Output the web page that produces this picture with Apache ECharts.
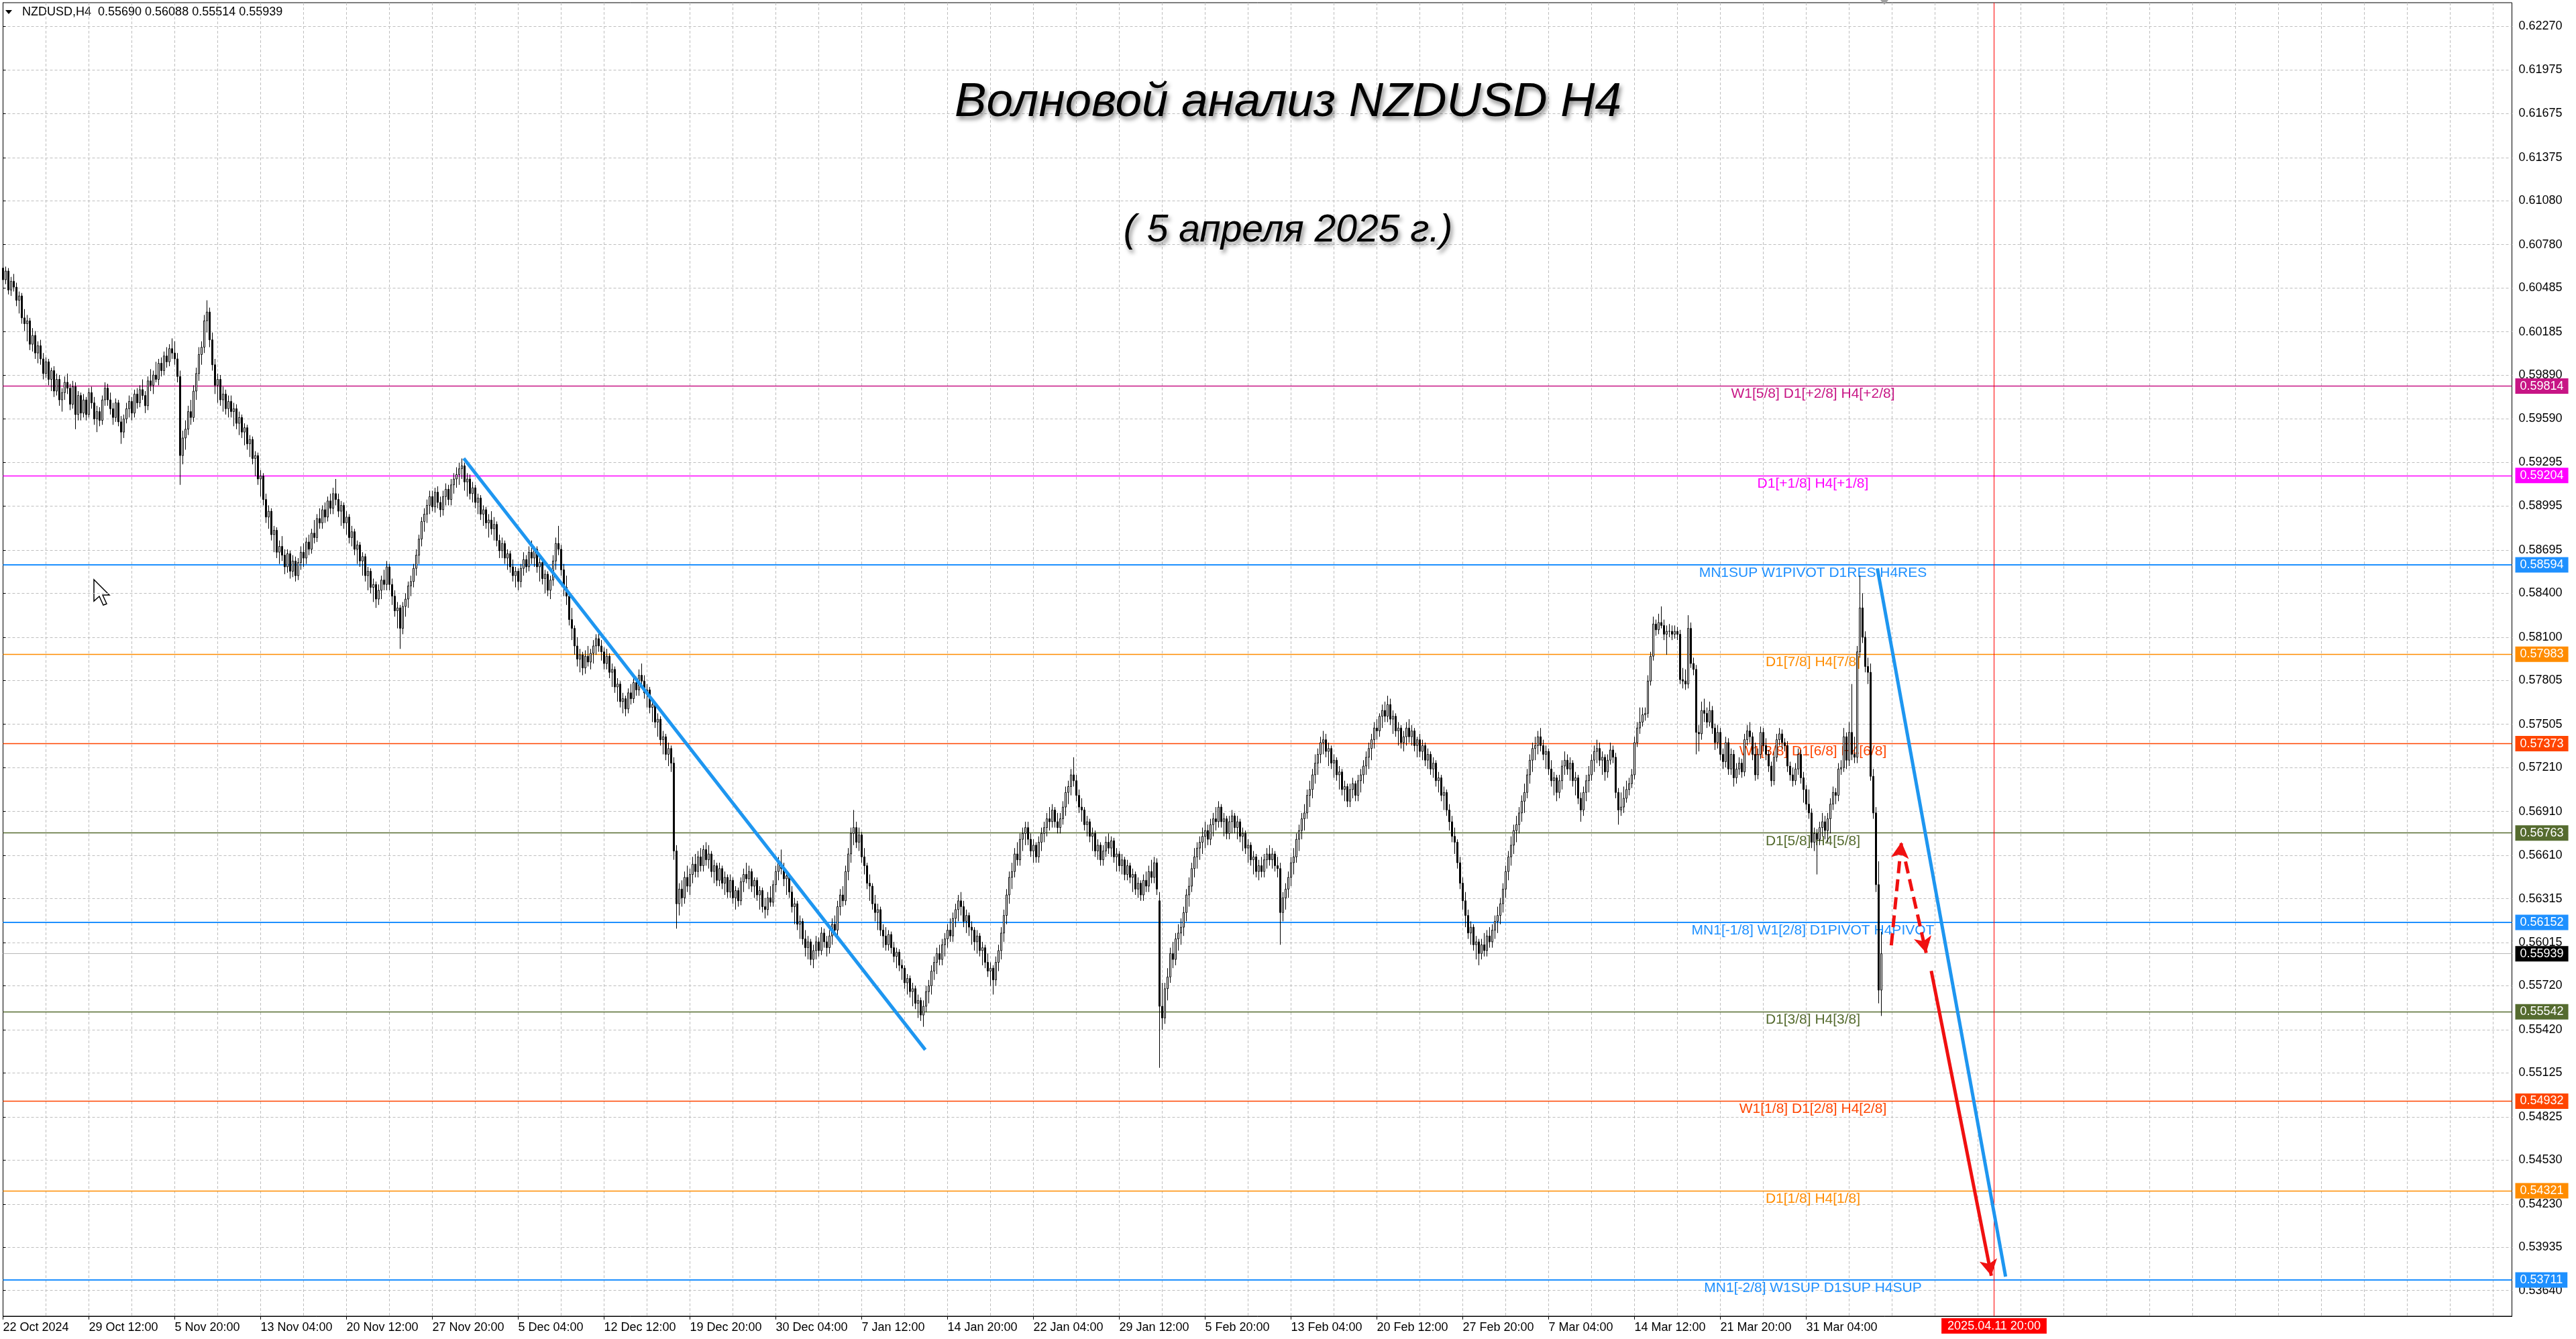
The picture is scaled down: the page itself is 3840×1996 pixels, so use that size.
<!DOCTYPE html>
<html><head><meta charset="utf-8">
<script src="https://cdn.jsdelivr.net/npm/echarts@6/dist/echarts.min.js"></script>
<style>html,body{margin:0;padding:0;background:#fff}#c{width:3840px;height:1996px}</style>
</head><body><div id="c"></div>
<script>
// H4 candles [open, high, low, close] in 1e-4 units (pips)
const barsOct = [[6062,6066,6050,6054],[6054,6063,6051,6060],[6060,6062,6044,6047],[6047,6056,6043,6053],[6053,6058,6046,6049],[6049,6052,6036,6040],[6040,6046,6031,6043],[6043,6045,6024,6028],[6028,6034,6019,6024],[6024,6030,6012,6026],
[6026,6028,6006,6010],[6010,6021,6005,6016],[6016,6019,6000,6004],[6004,6012,5997,6009],[6009,6013,5996,6000],[6000,6004,5986,5990],[5990,6001,5987,5998],[5998,6000,5982,5986],[5986,5994,5978,5992],[5992,5995,5974,5978],
[5978,5990,5975,5986],[5986,5989,5968,5972],[5972,5980,5964,5977],[5977,5988,5972,5984],[5984,5990,5976,5980],[5980,5983,5965,5969],[5969,5985,5966,5981],[5981,5984,5952,5962],[5962,5978,5958,5975],[5975,5977,5958,5963],
[5963,5976,5960,5972],[5972,5974,5958,5962],[5962,5980,5960,5977],[5977,5981,5966,5970],[5970,5974,5955,5959],[5959,5968,5950,5964],[5964,5967,5954,5958],[5958,5975,5955,5972],[5972,5984,5968,5980],[5980,5983,5968,5972],
[5972,5977,5962,5966],[5966,5970,5955,5960],[5960,5973,5957,5970],[5970,5972,5954,5957],[5957,5961,5942,5950],[5950,5962,5946,5959],[5959,5970,5956,5966]];
const barsNov = [[5966,5975,5960,5971],[5971,5974,5958,5963],[5963,5979,5960,5976],[5976,5980,5966,5970],[5970,5982,5967,5979],[5979,5986,5972,5975],[5975,5978,5963,5968],[5968,5988,5965,5985],[5985,5993,5978,5982],[5982,5992,5976,5989],
[5989,5998,5984,5986],[5986,6000,5982,5997],[5997,6001,5988,5992],[5992,6005,5989,6002],[6002,6008,5994,5998],[5998,6010,5995,6007],[6007,6014,6000,6004],[6004,6012,5996,6000],[6000,6004,5984,5988],[5988,5992,5914,5934],
[5934,5951,5928,5946],[5946,5958,5938,5952],[5952,5968,5948,5964],[5964,5972,5955,5960],[5960,5982,5957,5978],[5978,5994,5972,5990],[5990,6008,5985,6003],[6003,6012,5996,6008],[6008,6030,6004,6026],[6026,6040,6018,6032],
[6032,6035,6008,6013],[6013,6018,5992,5996],[5996,6000,5976,5982],[5982,5990,5970,5986],[5986,5989,5968,5972],[5972,5981,5964,5976],[5976,5979,5962,5966],[5966,5975,5960,5971],[5971,5975,5960,5964],[5964,5970,5954,5966],
[5966,5969,5952,5956],[5956,5964,5948,5960],[5960,5962,5946,5950],[5950,5956,5941,5953],[5953,5955,5938,5942],[5942,5948,5933,5945],[5945,5947,5928,5932],[5932,5937,5920,5934],[5934,5936,5914,5918],[5918,5924,5906,5920],
[5920,5922,5900,5904],[5904,5908,5888,5892],[5892,5900,5884,5896],[5896,5898,5876,5880],[5880,5886,5868,5883],[5883,5885,5864,5868],[5868,5876,5860,5872],[5872,5879,5862,5866],[5866,5870,5853,5858],[5858,5870,5854,5867],
[5867,5869,5850,5855],[5855,5866,5851,5862],[5862,5865,5848,5852],[5852,5864,5849,5861],[5861,5872,5856,5868],[5868,5874,5858,5864],[5864,5878,5860,5875],[5875,5880,5866,5870],[5870,5884,5867,5881],[5881,5890,5874,5878],
[5878,5894,5875,5891],[5891,5898,5884,5888],[5888,5900,5884,5897],[5897,5902,5888,5892],[5892,5906,5889,5903],[5903,5908,5894,5898],[5898,5912,5894,5908],[5908,5918,5900,5904],[5904,5908,5892,5896],[5896,5903,5886,5900],
[5900,5902,5884,5888],[5888,5896,5880,5892],[5892,5894,5874,5878],[5878,5886,5872,5882],[5882,5884,5866,5870],[5870,5876,5860,5873],[5873,5875,5858,5862],[5862,5868,5852,5865],[5865,5867,5848,5852],[5852,5858,5842,5855],
[5855,5857,5840,5844],[5844,5850,5834,5846],[5846,5848,5830,5836],[5836,5846,5832,5842],[5842,5852,5836,5849],[5849,5856,5842,5846],[5846,5862,5842,5858],[5858,5860,5842,5846],[5846,5850,5832,5838],[5838,5842,5824,5828],
[5828,5834,5816,5830],[5830,5832,5802,5816],[5816,5834,5812,5831],[5831,5840,5824,5836],[5836,5848,5830,5845],[5845,5852,5838,5848],[5848,5860,5844,5857],[5857,5870,5852,5866],[5866,5880,5860,5877],[5877,5892,5872,5889],
[5889,5898,5882,5894],[5894,5904,5888,5900],[5900,5910,5894,5906],[5906,5910,5896,5899],[5899,5912,5895,5909],[5909,5913,5898,5902],[5902,5906,5892,5897],[5897,5910,5893,5906],[5906,5915,5900,5911],[5911,5914,5900,5904],
[5904,5918,5900,5914],[5914,5922,5908,5918],[5918,5926,5912,5921],[5921,5929,5914,5925],[5925,5932,5918,5927],[5927,5929,5910,5916]];
const barsDec = [[5916,5922,5906,5918],[5918,5921,5904,5908],[5908,5916,5902,5912],[5912,5914,5898,5902],[5902,5908,5894,5905],[5905,5907,5890,5894],[5894,5900,5886,5897],[5897,5899,5884,5888],[5888,5894,5878,5890],[5890,5896,5880,5884],
[5884,5892,5876,5887],[5887,5889,5872,5876],[5876,5880,5864,5869],[5869,5878,5864,5874],[5874,5876,5860,5864],[5864,5870,5856,5867],[5867,5869,5854,5858],[5858,5863,5848,5852],[5852,5858,5844,5855],[5855,5857,5842,5848],
[5848,5860,5844,5857],[5857,5868,5852,5863],[5863,5866,5854,5858],[5858,5872,5855,5868],[5868,5876,5860,5864],[5864,5872,5858,5870],[5870,5872,5854,5858],[5858,5864,5848,5861],[5861,5863,5846,5850],[5850,5856,5840,5853],
[5853,5855,5838,5842],[5842,5852,5836,5849],[5849,5866,5845,5862],[5862,5878,5856,5874],[5874,5886,5866,5870],[5870,5873,5852,5856],[5856,5860,5838,5844],[5844,5852,5832,5838],[5838,5840,5818,5822],[5822,5830,5808,5816],
[5816,5818,5798,5804],[5804,5810,5790,5795],[5795,5802,5786,5798],[5798,5800,5784,5789],[5789,5801,5785,5797],[5797,5804,5790,5793],[5793,5802,5788,5799],[5799,5808,5792,5804],[5804,5812,5798,5809],[5809,5815,5800,5804],
[5804,5808,5794,5800],[5800,5803,5788,5792],[5792,5802,5788,5797],[5797,5799,5782,5786],[5786,5792,5776,5788],[5788,5790,5772,5776],[5776,5782,5766,5778],[5778,5780,5762,5766],[5766,5772,5758,5768],[5768,5770,5756,5761],
[5761,5775,5758,5772],[5772,5778,5764,5768],[5768,5782,5765,5779],[5779,5783,5770,5774],[5774,5788,5770,5784],[5784,5792,5776,5780],[5780,5784,5768,5772],[5772,5778,5762,5774],[5774,5776,5758,5762],[5762,5768,5752,5764],
[5764,5766,5748,5752],[5752,5758,5742,5754],[5754,5756,5736,5740],[5740,5746,5730,5742],[5742,5744,5726,5730],[5730,5738,5722,5734],[5734,5736,5718,5724],[5724,5728,5658,5664],[5664,5668,5611,5628],[5628,5642,5620,5638],
[5638,5644,5626,5632],[5632,5650,5628,5646],[5646,5654,5636,5640],[5640,5652,5634,5648],[5648,5660,5642,5655],[5655,5662,5646,5650],[5650,5664,5646,5660],[5660,5666,5650,5654],[5654,5668,5650,5665],[5665,5670,5654,5658],
[5658,5668,5652,5662],[5662,5664,5646,5650],[5650,5658,5642,5654],[5654,5656,5640,5644],[5644,5656,5640,5652],[5652,5654,5638,5642],[5642,5650,5634,5646],[5646,5648,5632,5636],[5636,5648,5632,5644],[5644,5646,5628,5632],
[5632,5640,5624,5637],[5637,5639,5626,5630],[5630,5646,5627,5643],[5643,5652,5636,5648],[5648,5656,5642,5645],[5645,5654,5638,5650],[5650,5652,5636,5640],[5640,5646,5632,5644],[5644,5646,5630,5634],[5634,5640,5624,5637],
[5637,5639,5622,5626],[5626,5632,5618,5624],[5624,5636,5620,5632],[5632,5640,5626,5629],[5629,5644,5626,5641],[5641,5654,5636,5650],[5650,5660,5644,5656],[5656,5665,5648,5652],[5652,5656,5640,5645],[5645,5650,5634,5647],
[5647,5649,5632,5636],[5636,5640,5622,5626],[5626,5632,5614,5628],[5628,5630,5610,5614],[5614,5620,5604,5616],[5616,5618,5600,5604]];
const barsJan = [[5604,5610,5592,5598],[5598,5606,5590,5602],[5602,5604,5586,5590],[5590,5600,5584,5596],[5596,5606,5590,5602],[5602,5605,5592,5596],[5596,5612,5593,5608],[5608,5611,5598,5602],[5602,5606,5592,5598],[5598,5610,5594,5606],
[5606,5618,5600,5614],[5614,5620,5606,5610],[5610,5630,5606,5626],[5626,5638,5620,5634],[5634,5640,5626,5630],[5630,5654,5627,5650],[5650,5666,5644,5662],[5662,5680,5656,5676],[5676,5692,5668,5680],[5680,5684,5666,5670],
[5670,5680,5664,5675],[5675,5677,5656,5660],[5660,5666,5648,5654],[5654,5656,5638,5642],[5642,5648,5630,5640],[5640,5642,5624,5628],[5628,5634,5616,5622],[5622,5628,5610,5624],[5624,5626,5606,5610],[5610,5614,5598,5606],
[5606,5612,5596,5600],[5600,5610,5596,5607],[5607,5609,5594,5598],[5598,5602,5588,5592],[5592,5598,5584,5595],[5595,5597,5582,5586],[5586,5590,5576,5584],[5584,5586,5570,5574],[5574,5580,5566,5577],[5577,5579,5564,5568],
[5568,5574,5558,5570],[5570,5572,5556,5560],[5560,5566,5550,5562],[5562,5564,5548,5552],[5552,5562,5544,5558],[5558,5572,5554,5568],[5568,5576,5560,5572],[5572,5586,5566,5582],[5582,5592,5576,5588],[5588,5598,5580,5594],
[5594,5600,5586,5590],[5590,5604,5586,5600],[5600,5608,5592,5604],[5604,5614,5598,5610],[5610,5618,5602,5606],[5606,5622,5602,5618],[5618,5628,5612,5624],[5624,5634,5616,5630],[5630,5636,5620,5626],[5626,5630,5612,5616],
[5616,5624,5608,5620],[5620,5622,5606,5612],[5612,5616,5600,5610],[5610,5612,5596,5602],[5602,5610,5594,5606],[5606,5608,5592,5596],[5596,5602,5586,5598],[5598,5600,5584,5588],[5588,5594,5578,5582],[5582,5588,5572,5584],
[5584,5586,5566,5576],[5576,5592,5572,5588],[5588,5600,5582,5596],[5596,5612,5590,5608],[5608,5624,5602,5620],[5620,5638,5614,5634],[5634,5650,5628,5646],[5646,5656,5638,5650],[5650,5666,5646,5662],[5662,5670,5654,5658],
[5658,5676,5654,5672],[5672,5680,5664,5676],[5676,5684,5668,5680],[5680,5684,5668,5672],[5672,5676,5660,5664],[5664,5672,5656,5668],[5668,5670,5656,5660],[5660,5674,5656,5670],[5670,5680,5664,5676],[5676,5684,5670,5680],
[5680,5690,5674,5686],[5686,5694,5678,5684],[5684,5696,5680,5692],[5692,5694,5680,5684],[5684,5690,5676,5680],[5680,5690,5676,5686],[5686,5698,5682,5694],[5694,5708,5688,5704],[5704,5712,5696,5708],[5708,5720,5702,5716],
[5716,5728,5708,5712],[5712,5716,5698,5702],[5702,5706,5690,5694],[5694,5700,5684,5692],[5692,5694,5678,5682],[5682,5688,5674,5684],[5684,5686,5670,5674],[5674,5680,5664,5676],[5676,5678,5660,5664],[5664,5672,5658,5668],
[5668,5670,5654,5658],[5658,5668,5654,5664],[5664,5674,5660,5670],[5670,5676,5662,5666],[5666,5674,5660,5671],[5671,5673,5656,5660],[5660,5666,5650,5662],[5662,5664,5650,5654],[5654,5662,5648,5658],[5658,5660,5644,5648],
[5648,5658,5644,5654],[5654,5656,5642,5646],[5646,5652,5636,5648],[5648,5650,5634,5638],[5638,5646,5632,5642],[5642,5644,5630,5634],[5634,5648,5630,5644],[5644,5650,5636,5640],[5640,5654,5636,5650],[5650,5658,5642,5646],
[5646,5660,5642,5656],[5656,5659,5634,5638]];
const barsFeb = [[5630,5636,5516,5558],[5558,5574,5542,5550],[5550,5574,5546,5570],[5570,5584,5562,5578],[5578,5598,5574,5594],[5594,5602,5584,5590],[5590,5608,5586,5604],[5604,5614,5596,5608],[5608,5618,5600,5612],[5612,5626,5606,5622],
[5622,5638,5616,5634],[5634,5646,5626,5640],[5640,5656,5636,5652],[5652,5666,5646,5660],[5660,5670,5652,5666],[5666,5674,5658,5670],[5670,5680,5662,5674],[5674,5684,5666,5678],[5678,5682,5668,5672],[5672,5686,5668,5682],
[5682,5690,5674,5686],[5686,5694,5678,5684],[5684,5698,5680,5694],[5694,5696,5680,5684],[5684,5690,5674,5686],[5686,5688,5672,5676],[5676,5688,5672,5684],[5684,5692,5676,5688],[5688,5690,5676,5680],[5680,5688,5672,5684],
[5684,5686,5670,5674],[5674,5680,5664,5676],[5676,5678,5662,5666],[5666,5672,5656,5668],[5668,5670,5654,5658],[5658,5664,5648,5660],[5660,5662,5646,5650],[5650,5658,5644,5654],[5654,5660,5646,5650],[5650,5662,5646,5658],
[5658,5666,5652,5662],[5662,5668,5654,5658],[5658,5666,5652,5662],[5662,5664,5650,5654],[5654,5660,5646,5652],[5652,5656,5600,5622],[5622,5636,5616,5632],[5632,5642,5624,5638],[5638,5650,5632,5646],[5646,5660,5640,5656],
[5656,5666,5648,5660],[5660,5676,5656,5672],[5672,5682,5664,5678],[5678,5690,5672,5686],[5686,5696,5678,5690],[5690,5706,5686,5702],[5702,5712,5694,5706],[5706,5720,5700,5716],[5716,5730,5710,5724],[5724,5734,5716,5730],
[5730,5742,5724,5738],[5738,5746,5730,5740],[5740,5744,5728,5732],[5732,5738,5722,5734],[5734,5736,5720,5724],[5724,5730,5714,5726],[5726,5728,5712,5716],[5716,5722,5706,5718],[5718,5720,5702,5706],[5706,5712,5698,5708],
[5708,5710,5694,5698],[5698,5710,5694,5706],[5706,5714,5700,5710],[5710,5712,5698,5702],[5702,5716,5698,5712],[5712,5720,5704,5716],[5716,5726,5710,5722],[5722,5732,5716,5728],[5728,5738,5720,5734],[5734,5744,5726,5740],
[5740,5752,5734,5748],[5748,5754,5740,5746],[5746,5758,5742,5756],[5756,5764,5748,5760],[5760,5766,5752,5756],[5756,5770,5752,5764],[5764,5768,5750,5754],[5754,5760,5744,5756],[5756,5758,5742,5746],[5746,5752,5736,5748],
[5748,5750,5734,5738],[5738,5746,5732,5742],[5742,5752,5736,5748],[5748,5754,5738,5742],[5742,5750,5736,5746],[5746,5748,5732,5736],[5736,5742,5728,5740],[5740,5744,5728,5732],[5732,5740,5726,5736],[5736,5738,5722,5726],
[5726,5734,5720,5730],[5730,5732,5716,5720],[5720,5728,5714,5724],[5724,5726,5708,5712],[5712,5718,5704,5714],[5714,5716,5698,5702],[5702,5708,5692,5704],[5704,5706,5688,5692],[5692,5696,5678,5684],[5684,5688,5670,5674],
[5674,5680,5662,5670],[5670,5672,5652,5656],[5656,5660,5638,5642],[5642,5646,5624,5630],[5630,5636,5612,5620],[5620,5624,5604,5608],[5608,5616,5600,5612],[5612,5614,5596,5600],[5600,5606,5590,5602],[5602,5604,5586,5594]];
const barsMar = [[5594,5604,5590,5600],[5600,5608,5592,5596],[5596,5610,5592,5606],[5606,5612,5598,5602],[5602,5614,5598,5610],[5610,5620,5604,5616],[5616,5626,5608,5620],[5620,5632,5614,5628],[5628,5642,5622,5638],[5638,5654,5632,5650],
[5650,5664,5644,5660],[5660,5674,5654,5668],[5668,5682,5662,5678],[5678,5688,5670,5682],[5682,5694,5676,5690],[5690,5702,5684,5698],[5698,5710,5690,5704],[5704,5720,5700,5716],[5716,5730,5710,5726],[5726,5738,5718,5734],
[5734,5742,5726,5736],[5736,5746,5730,5742],[5742,5748,5732,5736],[5736,5740,5726,5730],[5730,5736,5720,5732],[5732,5734,5716,5720],[5720,5726,5708,5712],[5712,5718,5702,5714],[5714,5716,5698,5704],[5704,5716,5700,5712],
[5712,5726,5706,5722],[5722,5732,5716,5726],[5726,5730,5716,5720],[5720,5728,5712,5724],[5724,5726,5708,5712],[5712,5718,5702,5714],[5714,5716,5696,5700],[5700,5704,5684,5692],[5692,5708,5688,5704],[5704,5716,5698,5712],
[5712,5722,5704,5716],[5716,5730,5712,5726],[5726,5736,5718,5732],[5732,5740,5724,5734],[5734,5738,5722,5726],[5726,5732,5716,5728],[5728,5730,5712,5718],[5718,5730,5714,5726],[5726,5738,5723,5733],[5733,5736,5724,5728],
[5728,5731,5700,5704],[5704,5707,5682,5692],[5692,5704,5688,5694],[5694,5708,5690,5700],[5700,5712,5697,5706],[5706,5714,5702,5710],[5710,5720,5707,5716],[5716,5742,5713,5738],[5738,5752,5735,5748],[5748,5762,5744,5752],
[5752,5762,5749,5757],[5757,5762,5753,5758],[5758,5784,5755,5780],[5780,5800,5777,5797],[5797,5824,5794,5819],[5819,5822,5811,5815],[5815,5826,5812,5820],[5820,5831,5816,5818],[5818,5822,5808,5812],[5812,5818,5798,5814],
[5814,5819,5810,5814],[5814,5818,5808,5812],[5812,5818,5809,5814],[5814,5817,5808,5812],[5812,5815,5778,5781],[5781,5789,5775,5780],[5780,5788,5774,5778],[5778,5825,5775,5816],[5816,5820,5789,5792],[5792,5796,5784,5788],
[5788,5791,5730,5745],[5745,5750,5732,5744],[5744,5766,5740,5760],[5760,5768,5752,5758],[5758,5762,5748,5752],[5752,5766,5749,5760],[5760,5763,5744,5748],[5748,5751,5733,5738],[5738,5750,5734,5745],[5745,5748,5726,5730],
[5730,5734,5720,5725],[5725,5742,5721,5738],[5738,5741,5716,5720],[5720,5734,5716,5730],[5730,5733,5708,5714],[5714,5724,5710,5720],[5720,5728,5716,5724],[5724,5727,5714,5718],[5718,5744,5715,5740],[5740,5750,5736,5746],
[5746,5752,5738,5742],[5742,5745,5726,5730],[5730,5738,5712,5716],[5716,5734,5713,5730],[5730,5749,5727,5745],[5745,5748,5732,5736],[5736,5741,5726,5730],[5730,5733,5718,5722],[5722,5725,5708,5712],[5712,5732,5709,5728],
[5728,5744,5725,5740],[5740,5748,5736,5744],[5744,5747,5734,5738],[5738,5741,5732,5736],[5736,5739,5718,5722],[5722,5725,5712,5716],[5716,5721,5708,5712],[5712,5724,5709,5720],[5720,5734,5716,5730],[5730,5733,5710,5714],
[5714,5718,5697,5706],[5706,5709,5692,5696],[5696,5706,5686,5690],[5690,5693,5666,5670],[5670,5680,5664,5676],[5676,5679,5648,5672]];
const barsApr = [[5672,5684,5668,5680],[5680,5690,5674,5684],[5684,5688,5672,5678],[5678,5690,5670,5686],[5686,5700,5676,5696],[5696,5708,5692,5704],[5704,5707,5696,5702],[5702,5724,5698,5720],[5720,5726,5716,5721],[5721,5748,5718,5742],
[5742,5745,5720,5726],[5726,5752,5722,5745],[5745,5778,5726,5730],[5730,5742,5724,5728],[5728,5804,5724,5800],[5800,5852,5796,5830],[5830,5840,5806,5810],[5810,5814,5786,5790],[5790,5796,5778,5786],[5786,5792,5712,5715],
[5715,5720,5686,5690],[5690,5694,5636,5641],[5641,5657,5560,5569],[5569.0,5608.8,5551.4,5593.9]];

const timeLabels = ['22 Oct 2024','29 Oct 12:00','5 Nov 20:00','13 Nov 04:00','20 Nov 12:00','27 Nov 20:00','5 Dec 04:00','12 Dec 12:00','19 Dec 20:00','30 Dec 04:00','7 Jan 12:00','14 Jan 20:00','22 Jan 04:00','29 Jan 12:00','5 Feb 20:00','13 Feb 04:00','20 Feb 12:00','27 Feb 20:00','7 Mar 04:00','14 Mar 12:00','21 Mar 20:00','31 Mar 04:00'];
const priceTicks = [0.62270,0.61975,0.61675,0.61375,0.61080,0.60780,0.60485,0.60185,0.59890,0.59590,0.59295,0.58995,0.58695,0.58400,0.58100,0.57805,0.57505,0.57210,0.56910,0.56610,0.56315,0.56015,0.55720,0.55420,0.55125,0.54825,0.54530,0.54230,0.53935,0.53640];
const levelPrices = [0.59814,0.59204,0.58594,0.57983,0.57373,0.56763,0.56152,0.55542,0.54932,0.54321,0.53711];
const levelNames = ['W1[5/8] D1[+2/8] H4[+2/8]','D1[+1/8] H4[+1/8]','MN1SUP W1PIVOT D1RES H4RES','D1[7/8] H4[7/8]','W1[3/8] D1[6/8] H4[6/8]','D1[5/8] H4[5/8]','MN1[-1/8] W1[2/8] D1PIVOT H4PIVOT','D1[3/8] H4[3/8]','W1[1/8] D1[2/8] H4[2/8]','D1[1/8] H4[1/8]','MN1[-2/8] W1SUP D1SUP H4SUP'];
const levelColors = ['#C71585','#FF00FF','#1E90FF','#FF8C00','#FF4500','#556B2F','#1E90FF','#556B2F','#FF4500','#FF8C00','#1E90FF'];
const levelWidths = [1.3,1.3,2.2,1.3,1.3,1.3,2.2,1.3,1.3,1.3,2.2];
const bidPrice = 0.55939;
const trendLine1 = [[171.7,0.59321],[343.7,0.55283]];
const trendLine2 = [[698.5,0.58570],[746.3,0.53734]];
const arrowUp = [[703.7,0.55996],[707.5,0.56701]];
const arrowDown = [[709.0,0.56568],[716.7,0.55944]];
const arrowMain = [[718.6,0.55822],[741.0,0.53740]];
const futureMarkBar = 742;
const futureMarkLabel = '2025.04.11 20:00';
const levelLabelBar = 674.5;
const barSlots = 936;
const labelStep = 32;
const gridStep = 16;
const symbolName = 'NZDUSD,H4';

const bars = [].concat(barsOct, barsNov, barsDec, barsJan, barsFeb, barsMar, barsApr);
const candleData = bars.map(b => [b[0]/1e4, b[3]/1e4, b[2]/1e4, b[1]/1e4]);
const cats = Array.from({length: barSlots}, (_, i) => String(i));
const last = bars[bars.length - 1];
const headText = symbolName + '  ' + last.map(v => (v/1e4).toFixed(5)).join(' ');

const FONT = '"Liberation Sans", Arial, sans-serif';
const chart = echarts.init(document.getElementById('c'), null, {renderer: 'canvas', width: 3840, height: 1996});

const arrowLine = (pts, color, dashed) => [{coord: pts[0]}, {coord: pts[1], lineStyle: {color: color, width: 5, opacity: 1, type: dashed ? [18, 9] : 'solid'}}];

chart.setOption({
  animation: false,
  backgroundColor: '#ffffff',
  title: [
    {text: 'Волновой анализ NZDUSD H4', left: 'center', top: 118, padding: 0,
     textStyle: {fontFamily: FONT, fontStyle: 'italic', fontWeight: 'normal', fontSize: 71, color: '#000',
       textShadowColor: 'rgba(0,0,0,0.45)', textShadowBlur: 6, textShadowOffsetX: 3, textShadowOffsetY: 5}},
    {text: '( 5 апреля 2025 г.)', left: 'center', top: 316, padding: 0,
     textStyle: {fontFamily: FONT, fontStyle: 'italic', fontWeight: 'normal', fontSize: 57, color: '#000',
       textShadowColor: 'rgba(0,0,0,0.45)', textShadowBlur: 6, textShadowOffsetX: 3, textShadowOffsetY: 5}}
  ],
  grid: {left: 4.5, right: 95.5, top: 4, bottom: 34, show: true, borderColor: '#000', borderWidth: 1, backgroundColor: '#fff', containLabel: false, outerBoundsMode: 'none'},
  xAxis: [
    {type: 'category', data: cats, boundaryGap: false,
     axisLine: {show: true, lineStyle: {color: '#000', width: 1}},
     axisTick: {show: true, length: 5, lineStyle: {color: '#000'}, interval: (i) => i % labelStep === 0 && i / labelStep < timeLabels.length},
     axisLabel: {show: true, align: 'left', margin: 8, color: '#000', fontFamily: FONT, fontSize: 18,
       interval: (i) => i % labelStep === 0 && i / labelStep < timeLabels.length,
       formatter: (v, i) => timeLabels[Math.round(Number(v) / labelStep)] || ''},
     splitLine: {show: true, interval: (i) => i % gridStep === 0, lineStyle: {color: '#BEBEBE', type: [4, 3], width: 1}}},
    {type: 'value', min: 0, max: barSlots - 1, show: false}
  ],
  yAxis: [{type: 'value', position: 'right', min: 0.53464, max: 0.62432, scale: true,
    axisLine: {show: true, lineStyle: {color: '#000'}},
    axisTick: {show: true, length: 4, customValues: priceTicks, lineStyle: {color: '#000'}},
    axisLabel: {show: true, customValues: priceTicks, margin: 10, color: '#000', fontFamily: FONT, fontSize: 18, formatter: v => v.toFixed(5)},
    splitLine: {show: true, lineStyle: {color: '#BEBEBE', type: [4, 3], width: 1}}}],
  series: [
    {type: 'scatter', name: 'levels', xAxisIndex: 1, yAxisIndex: 0, z: 1, silent: true, symbolSize: 1,
     itemStyle: {color: 'rgba(0,0,0,0)'},
     data: levelPrices.map((p, k) => ({name: levelNames[k], value: [levelLabelBar, p], label: {color: levelColors[k]}})),
     label: {show: true, position: 'inside', offset: [0, 12], formatter: p => p.name, fontFamily: FONT, fontSize: 21, opacity: 1},
     markLine: {silent: true, z: 1, precision: 5, symbol: ['none', 'none'], animation: false,
       label: {show: true, position: 'end', distance: 5, color: '#fff', fontFamily: FONT, fontSize: 18, padding: [3, 7, 2, 7],
         formatter: p => Number(p.value).toFixed(5)},
       data: levelPrices.map((p, k) => ({yAxis: p, lineStyle: {color: levelColors[k], width: levelWidths[k], opacity: 1, type: 'solid'}, label: {backgroundColor: levelColors[k]}}))
         .concat([{yAxis: bidPrice, lineStyle: {color: '#B8B8B8', width: 1.2, opacity: 1, type: 'solid'}, label: {backgroundColor: '#000'}}])}
    },
    {type: 'candlestick', name: 'NZDUSD', xAxisIndex: 0, yAxisIndex: 0, z: 3, large: false, barWidth: 2, silent: true,
     itemStyle: {color: '#ffffff', color0: '#000000', borderColor: '#000000', borderColor0: '#000000', borderColorDoji: '#000000', borderWidth: 1},
     data: candleData},
    {type: 'line', name: 'trend1', xAxisIndex: 1, yAxisIndex: 0, z: 4, silent: true, symbol: 'none', data: trendLine1,
     lineStyle: {color: '#1E96F0', width: 5}},
    {type: 'line', name: 'trend2', xAxisIndex: 1, yAxisIndex: 0, z: 4, silent: true, symbol: 'none', data: trendLine2,
     lineStyle: {color: '#1E96F0', width: 5}},
    {type: 'line', name: 'arrows', xAxisIndex: 1, yAxisIndex: 0, z: 5, silent: true, symbol: 'none', data: [],
     markLine: {silent: true, z: 6, precision: 5, animation: false, symbol: ['none', 'arrow'], symbolSize: [20, 24],
       label: {show: false},
       data: [
         arrowLine(arrowUp, '#F01010', true),
         arrowLine(arrowDown, '#F01010', true),
         arrowLine(arrowMain, '#F01010', false)
       ]}},
    {type: 'line', name: 'future', xAxisIndex: 1, yAxisIndex: 0, z: 2, silent: true, symbol: 'none', data: [],
     markLine: {silent: true, z: 2, precision: 2, animation: false, symbol: ['none', 'none'],
       data: [{xAxis: futureMarkBar, lineStyle: {color: '#FF0000', width: 1, opacity: 1, type: 'solid'},
          label: {show: true, position: 'start', distance: 3, formatter: futureMarkLabel, color: '#fff', backgroundColor: '#FF0000',
            fontFamily: FONT, fontSize: 18, padding: [3, 9, 2, 9]}}]}}
  ],
  graphic: [
    {type: 'polygon', shape: {points: [[8, 15], [18, 15], [13, 21]]}, style: {fill: '#000'}},
    {type: 'text', x: 33, y: 9, style: {text: headText, fontFamily: FONT, fontSize: 18, fill: '#000'}},
    {type: 'polygon', shape: {points: [[2803, 0], [2815, 0], [2809, 7]]}, style: {fill: '#A0A0A0'}},
    {type: 'polygon', shape: {points: [[140, 864], [140, 896], [148, 889], [154, 902], [159, 900], [153, 887], [163, 887]]},
     style: {fill: '#fff', stroke: '#000', lineWidth: 1.5}}
  ]
});
</script>
</body></html>
